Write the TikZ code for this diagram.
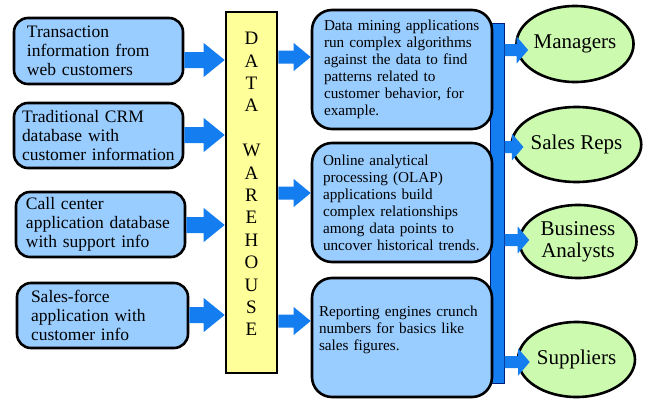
\documentclass[tikz,border=0pt]{standalone}
\usepackage{fontspec}
\setmainfont{Liberation Serif}
\usetikzlibrary{shapes.geometric,calc}
\definecolor{boxblue}{RGB}{153,204,255}
\definecolor{arrblue}{RGB}{20,125,240}
\definecolor{dwyellow}{RGB}{255,255,153}
\definecolor{ellgreen}{RGB}{204,250,175}
\definecolor{barline}{RGB}{0,30,120}
\newcommand\blockarrow[5]{%
  \fill[arrblue] let \p1=(#1), \p2=(#2) in
  (\x1,\y1-#3) -- (\x2-#5,\y1-#3) -- (\x2-#5,\y1-#4) -- (\x2,\y1)
  -- (\x2-#5,\y1+#4) -- (\x2-#5,\y1+#3) -- (\x1,\y1+#3) -- cycle;}
\tikzset{
  srcbox/.style={draw, line width=2.6pt, fill=boxblue, rounded corners=14pt,
    align=left, inner sep=0pt, font=\fontsize{17.5}{19}\selectfont},
  midbox/.style={draw, line width=2.6pt, fill=boxblue, rounded corners=20pt,
    align=left, inner sep=0pt, minimum width=180pt, minimum height=119pt,
    font=\fontsize{15.2}{17}\selectfont},
  userell/.style={ellipse, draw, line width=2.6pt, fill=ellgreen, inner sep=0pt,
    align=center, font=\fontsize{21}{22}\selectfont},
}
\begin{document}
\begin{tikzpicture}[x=1pt,y=-1pt]
\useasboundingbox (0,0) rectangle (649,405);
% sources
\node[srcbox, minimum width=169pt, minimum height=66pt, text width=143pt] (s1) at (98.5,51)
  {Transaction\\information from\\web customers};
\node[srcbox, minimum width=169pt, minimum height=65pt, text width=153pt] (s2) at (98.5,135.5)
  {Traditional CRM\\database with\\customer information};
\node[srcbox, minimum width=169pt, minimum height=65pt, text width=149pt] (s3) at (100.5,224.5)
  {Call center\\application database\\with support info};
\node[srcbox, minimum width=171pt, minimum height=65pt, text width=143pt] (s4) at (102.5,315.5)
  {Sales-force\\application with\\customer info};
% data warehouse
\node[draw, line width=2.6pt, fill=dwyellow, minimum width=51pt, minimum height=361pt,
  inner sep=0pt, text width=20pt, align=center, text depth=308pt,
  font=\fontsize{19}{22.4}\selectfont] (dw) at (251.5,192.5)
  {D\\A\\T\\A\\[22.4pt]W\\A\\R\\E\\H\\O\\U\\S\\E};
% bar
\node[draw=barline, line width=1pt, fill=arrblue, minimum width=14pt, minimum height=360pt,
  inner sep=0pt] (bar) at (497,203) {};
% middle boxes
\node[midbox, text width=156pt] (m1) at (402,69.5)
  {Data mining applications\\run complex algorithms\\against the data to find\\patterns related to\\customer behavior, for\\example.};
\node[midbox, text width=158pt] (m2) at (402,202.5)
  {Online analytical\\processing (OLAP)\\applications build\\complex relationships\\among data points to\\uncover historical trends.};
\node[midbox, text width=166pt, text depth=52pt] (m3) at (402,337.5)
  {Reporting engines crunch\\numbers for basics like\\sales figures.};
% users
\node[userell, minimum width=116pt, minimum height=76pt] (man) at (575,44) {Managers};
\node[userell, minimum width=119pt, minimum height=75pt] (rep) at (576.5,144.5) {Sales Reps};
\node[userell, minimum width=117pt, minimum height=73pt] (ana) at (578,241.5) {Business\\Analysts};
\node[userell, minimum width=117pt, minimum height=75pt] (sup) at (576.5,359.5) {Suppliers};
\coordinate (tman) at ([xshift=13pt]man.west);
\coordinate (trep) at ([xshift=13pt]rep.west);
\coordinate (tana) at ([xshift=11pt]ana.west);
\coordinate (tsup) at ([xshift=13pt]sup.west);
% arrows sources -> warehouse
\blockarrow{s1.east |- 0,60}{dw.west |- 0,60}{8pt}{17pt}{21pt}
\blockarrow{s2.east |- 0,135}{dw.west |- 0,135}{8pt}{17pt}{21pt}
\blockarrow{s3.east |- 0,225}{dw.west |- 0,225}{8pt}{17pt}{21pt}
\blockarrow{s4.east |- 0,315}{dw.west |- 0,315}{8pt}{17pt}{21pt}
% warehouse -> applications
\blockarrow{dw.east |- 0,57}{m1.west |- 0,57}{6.5pt}{14pt}{17pt}
\blockarrow{dw.east |- 0,193}{m2.west |- 0,193}{6.5pt}{14pt}{17pt}
\blockarrow{dw.east |- 0,321}{m3.west |- 0,321}{6.5pt}{14pt}{17pt}
% bar -> users
\blockarrow{bar.east |- 0,50}{tman |- 0,50}{6pt}{13.5pt}{11.5pt}
\blockarrow{bar.east |- 0,147}{trep |- 0,147}{6pt}{13.5pt}{11.5pt}
\blockarrow{bar.east |- 0,240}{tana |- 0,240}{6pt}{13.5pt}{11.5pt}
\blockarrow{bar.east |- 0,362}{tsup |- 0,362}{6pt}{13.5pt}{11.5pt}
\end{tikzpicture}
\end{document}
